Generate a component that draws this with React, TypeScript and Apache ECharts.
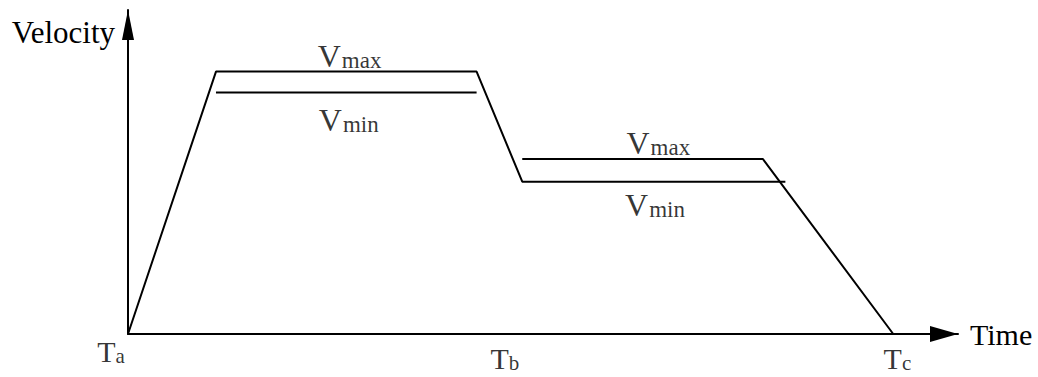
import React, { useEffect, useRef } from "react";
import * as echarts from "echarts";

// Time (s) and velocity values of the profile
const profileA: [number, number][] = [
  [0, 0],
  [1.06, 8.1],
  [4.2, 8.1],
  [4.75, 4.7],
  [7.92, 4.7],
];
const vMin1Line: [number, number][] = [
  [1.06, 7.45],
  [4.2, 7.45],
];
const profileB: [number, number][] = [
  [4.75, 5.4],
  [7.65, 5.4],
  [9.22, 0],
];
// Time markers
const timeMarkNames = ["a", "b", "c"];
const timeMarkValues = [0, 4.54, 9.27];
// Level labels: [time, velocity]
const levelLabelNames = ["max", "min", "max", "min"];
const levelLabelPoints: [number, number][] = [
  [2.67, 8.1],
  [2.66, 7.45],
  [6.39, 5.4],
  [6.35, 4.7],
];

const FONT = "'Liberation Serif', 'Times New Roman', serif";

export default function App() {
  const ref = useRef<HTMLDivElement>(null);
  useEffect(() => {
    document.body.style.margin = "0";
    if (!ref.current) return;
    const chart = echarts.init(ref.current, null, { renderer: "svg" });

    const lineStyle = { color: "#000", width: 2 };
    const levelOffsets = [
      [0, -16],
      [0, 27],
      [0, -16],
      [0, 23],
    ];
    const timeOffsets = [
      [-17, 17],
      [0, 24],
      [0, 24],
    ];
    const tok = (fontSize: number, lineHeight: number, padding?: number[]) => ({
      fontSize,
      lineHeight,
      fontFamily: FONT,
      color: "#000",
      verticalAlign: "bottom",
      ...(padding ? { padding } : {}),
    });
    const rich = {
      big: tok(30, 30),
      vbig: tok(32, 32),
      small: tok(21, 24),
      vsmall: tok(23, 26, [0, 0, 0, 1]),
      sub: tok(21, 12),
    };
    const baseLabel = {
      show: true,
      position: "inside",
      fontFamily: FONT,
      fontSize: 28,
      color: "#000",
      rich,
    };

    chart.setOption({
      animation: false,
      textStyle: { fontFamily: FONT, color: "#000" },
      grid: { left: 128, top: 10, width: 830, height: 324 },
      xAxis: {
        type: "value",
        min: 0,
        max: 10,
        axisLine: {
          show: true,
          lineStyle,
          symbol: ["none", "triangle"],
          symbolSize: [16, 28],
          symbolOffset: [0, -14],
        },
        axisTick: { show: false },
        axisLabel: { show: false },
        splitLine: { show: false },
        name: "Time",
        nameLocation: "end",
        nameGap: 12,
        nameTextStyle: {
          fontFamily: FONT,
          fontSize: 30,
          color: "#000",
          align: "left",
          verticalAlign: "middle",
          padding: [16, 0, 0, 0],
        },
      },
      yAxis: {
        type: "value",
        min: 0,
        max: 10,
        axisLine: {
          show: true,
          lineStyle,
          symbol: ["none", "triangle"],
          symbolSize: [12, 30],
          symbolOffset: [0, -15],
        },
        axisTick: { show: false },
        axisLabel: { show: false },
        splitLine: { show: false },
        name: "Velocity",
        nameLocation: "end",
        nameGap: -22,
        nameTextStyle: {
          fontFamily: FONT,
          fontSize: 31,
          color: "#000",
          align: "right",
          verticalAlign: "middle",
          padding: [0, 13, 0, 0],
        },
      },
      series: [
        { type: "line", data: profileA, symbol: "none", lineStyle, silent: true },
        { type: "line", data: vMin1Line, symbol: "none", lineStyle, silent: true },
        { type: "line", data: profileB, symbol: "none", lineStyle, silent: true },
        {
          type: "scatter",
          symbolSize: 0,
          silent: true,
          clip: false,
          label: baseLabel,
          data: levelLabelPoints.map((p, i) => ({
            value: p,
            label: {
              ...baseLabel,
              offset: levelOffsets[i],
              formatter: `{vbig|V}{vsmall|${levelLabelNames[i]}}`,
            },
          })),
        },
        {
          type: "scatter",
          symbolSize: 0,
          silent: true,
          clip: false,
          label: baseLabel,
          data: timeMarkValues.map((t, i) => ({
            value: [t, 0],
            label: {
              ...baseLabel,
              offset: timeOffsets[i],
              formatter: `{big|T}{${i === 2 ? "sub" : "small"}|${timeMarkNames[i]}}`,
            },
          })),
        },
      ],
    });
    return () => chart.dispose();
  }, []);
  return <div ref={ref} style={{ width: 1038, height: 377 }} />;
}
